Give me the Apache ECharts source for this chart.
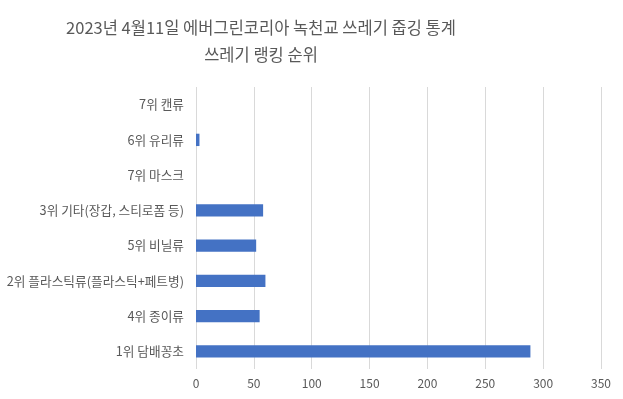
<!DOCTYPE html>
<html>
<head>
<meta charset="utf-8">
<script src="https://cdn.jsdelivr.net/npm/echarts@6/dist/echarts.min.js"></script>
<style>
  html, body { margin: 0; padding: 0; background: #fff; }
  #chart { width: 623px; height: 399px; }
</style>
</head>
<body>
<div id="chart"></div>
<script>
// 카테고리 (아래에서 위로)
var categories = [
  '1위 담배꽁초',
  '4위 종이류',
  '2위 플라스틱류(플라스틱+페트병)',
  '5위 비닐류',
  '3위 기타(장갑, 스티로폼 등)',
  '7위 마스크',
  '6위 유리류',
  '7위 캔류'
]
var counts = [289, 55, 60, 52, 58, 0, 3, 0]
var titleLines = ['2023년 4월11일 에버그린코리아 녹천교 쓰레기 줍깅 통계', '쓰레기 랭킹 순위']

var fontFamily = '"Noto Sans CJK KR", "Noto Sans", sans-serif'
var myChart = echarts.init(document.getElementById('chart'))
var option = {
  animation: false,
  title: {
    text: titleLines.join('\n'),
    left: 256,
    textAlign: 'center',
    top: 9,
    textStyle: {
      color: '#595959',
      fontSize: 16.5,
      fontWeight: 'normal',
      fontFamily: fontFamily,
      lineHeight: 27
    }
  },
  grid: { left: 196, right: 22, top: 87, bottom: 30 },
  xAxis: {
    type: 'value',
    min: 0,
    max: 350,
    interval: 50,
    axisLine: { show: false },
    axisTick: { show: false },
    axisLabel: { color: '#595959', fontSize: 12, fontFamily: fontFamily, margin: 8 },
    splitLine: { lineStyle: { color: '#d9d9d9', width: 1 } } // 세로 눈금선
  },
  yAxis: {
    type: 'category',
    data: categories,
    axisLine: { show: false },
    axisTick: { show: false },
    axisLabel: { color: '#595959', fontSize: 12.7, fontFamily: fontFamily, margin: 12 }
  },
  series: [
    {
      type: 'bar',
      data: counts,
      barWidth: '35%',
      itemStyle: { color: '#4472C4' }
    }
  ]
}
myChart.setOption(option)
</script>
</body>
</html>
